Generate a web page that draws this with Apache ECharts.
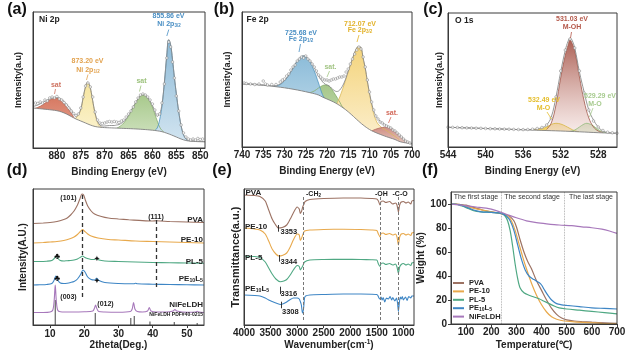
<!DOCTYPE html>
<html><head><meta charset="utf-8">
<script src="https://cdn.jsdelivr.net/npm/echarts@6.0.0/dist/echarts.min.js"></script>
<style>html,body{margin:0;padding:0;background:#fff}#c{width:639px;height:354px}</style>
</head><body><div id="c"></div>
<script>
const F='"Liberation Sans", Arial, Helvetica, sans-serif';
// ---------- (a) Ni 2p ----------
const niTicks=[880,875,870,865,860,855,850];
const niBg=[[885,40],[883,39],[881,38],[880,37.3],[879,36],[878,34],[877,31.5],[876,29],[875,27],[874,25],[873,23],[872,21.5],[871,20.8],[870,20.4],[868,20],[866,19.6],[864,19.2],[862,18.6],[860,17.8],[859,17.2],[858,16.3],[857,14.8],[856,13],[855,11],[854,9],[853,7.5],[852,6.8],[850,6.3],[849,6.2]];
const niSat1=[[884.5,39.8],[884,40.6],[883,43],[882,46.5],[881,49],[880,49.7],[879,46.5],[878,41],[877,34.8],[876.3,29.2]];
const niP12=[[876.5,28.5],[876,30],[875.5,33],[875,38],[874.5,50],[874,61],[873.6,65.3],[873.2,63],[872.8,55],[872.4,44],[872,34],[871.5,25.5],[871,21.5],[870.5,20.6]];
const niSat2=[[867.5,19.9],[867,21],[866,25],[865,32],[864,41],[863,49],[862.5,52],[862,53],[861.5,52.5],[861,50],[860.5,46],[860,41],[859.5,34],[859,27],[858.5,21],[858,17.5],[857.5,15.6]];
const niP32=[[859.5,17.6],[859,20],[858.5,28],[858,42],[857.5,65],[857,92],[856.6,108],[856.2,103],[855.8,88],[855.4,70],[855,54],[854.5,36],[854,22],[853.5,13],[853,9],[852.5,7.2]];
const niFit=[[885,41.5],[884,43],[883,45.5],[882,48],[881,50],[880,50.5],[879,48.5],[878,44],[877,38],[876.5,34],[876,32],[875.5,34],[875,39],[874.5,50.5],[874,61.5],[873.6,65.8],[873.2,63.5],[872.8,55.5],[872.4,44.5],[872,35],[871.5,27],[871,23],[870.5,22],[870,22],[869,22.5],[868,22.5],[867.5,23],[867,23.5],[866,26.5],[865,33],[864,41.5],[863,49.5],[862.5,52.5],[862,53.5],[861.5,53],[861,50.5],[860.5,47],[860,42.5],[859.5,37],[859,32],[858.5,34],[858,44],[857.5,66],[857,93],[856.6,108.5],[856.2,103.5],[855.8,88.5],[855.4,70.5],[855,54.5],[854.5,36.5],[854,22.5],[853.5,13.5],[853,9.5],[852.5,7.8],[852,7.2],[850,6.6],[849,6.4]];
const niData=[[884.5,45],[884,44.5],[883.5,46],[883,45],[882.5,48],[882,47],[881.5,50],[881,51],[880.5,50],[880,51.5],[879.5,49],[879,48],[878.5,45.5],[878,43],[877.5,40],[877,37],[876.5,34.5],[876,32.5],[875.5,34],[875,40],[874.5,51],[874,62],[873.5,65],[873,61],[872.5,51],[872,36],[871.5,28],[871,25],[870.5,24.5],[870,25],[869.5,26],[869,26.5],[868.5,26],[868,26.5],[867.5,26],[867,25.5],[866.5,27],[866,28],[865.5,31],[865,34],[864.5,37],[864,41],[863.5,46],[863,50],[862.5,53],[862,54],[861.5,53],[861,51],[860.5,48],[860,44],[859.5,38],[859,33],[858.5,34],[858,45],[857.5,64],[857,90],[856.6,106],[856.2,101],[855.8,86],[855.4,70],[855,52],[854.5,37],[854,23],[853.5,15],[853,11],[852.5,9],[852,8],[851.5,9],[851,8],[850.5,9.5],[850,8.5],[849.5,9]];
// ---------- (b) Fe 2p ----------
const feTicks=[740,735,730,725,720,715,710,705,700];
const feBg=[[740,63],[736,62],[732,60.3],[728,57.8],[724,54.3],[722,52],[721,49.8],[720,48],[718,44],[716,38.5],[714.6,33.7],[713,27.5],[711.5,22],[710,17.5],[709,15.3],[708,13.5],[706,10.3],[704,7.5],[702.8,5.3],[701,3.8],[700,3]];
const feSat1=[[724,54.3],[723,56],[722,59],[721,61.5],[720.3,62],[719.5,61],[719,58.5],[718,52],[717,45],[716.5,41],[716,38.5]];
const feP12=[[732.5,60.6],[732,61],[731,62.5],[730,66],[729,72],[728,79],[727,86],[726,90.5],[725.5,91],[725,90],[724,85],[723,76],[722,64],[721.3,55],[720.8,50],[720.5,48.5]];
const feP32=[[717.7,43],[717,50],[716,62],[715,75],[714,88],[713.2,97],[712.6,100.3],[712,99],[711.5,88],[711,78],[710.5,65],[710,53],[709.5,42],[709,33],[708.5,27],[708,23],[707,19],[706,16.5],[705,13.5],[704,10.5],[703,7.5]];
const feSat2=[[709.5,16],[709,17],[708,18.5],[707,19.5],[706,19.7],[705,18.8],[704,16],[703,12],[702,8],[701,5],[700.3,3.3]];
const feFit=[[740,63.5],[738,63.2],[736,62.5],[734,61.7],[733,61.3],[732,61.5],[731,63],[730,66.5],[729,72],[728,79],[727,86],[726,90.5],[725.5,91.2],[725,90.5],[724,86.5],[723,79.5],[722,71],[721,65],[720.3,62.5],[719.5,61],[719,59],[718.3,56.5],[717.7,55.5],[717,57],[716,64],[715,76],[714,88.5],[713.2,97.5],[712.6,100.5],[712,99.5],[711.5,89],[711,79],[710.5,66],[710,54],[709.5,44],[709,36],[708.5,31],[708,28],[707,24],[706,21.5],[705,19],[704,16],[703,12],[702,8],[701,5],[700,3.2]];
const feData=[[739.5,64],[739,63.5],[738,63],[737,62.5],[736,63],[735,66],[734.5,63],[734,62],[733,62.5],[732,62.5],[731,65],[730.5,67],[730,68],[729.5,71],[729,73],[728.5,77],[728,80],[727.5,82],[727,86],[726.5,88],[726,90],[725.5,89],[725,91],[724.5,88],[724,86],[723.5,83],[723,80],[722.5,76],[722,72],[721.5,70],[721,68],[720.5,67],[720,67],[719.5,66],[719,67],[718.5,68],[718,68],[717.5,69],[717,70],[716.5,70],[716,71],[715.5,75],[715,78],[714.5,83],[714,88],[713.5,93],[713,97],[712.5,100],[712,98],[711.5,90],[711,80],[710.5,67],[710,55],[709.5,45],[709,37],[708.5,31],[708,28],[707.5,25],[707,24],[706.5,22],[706,21],[705.5,20],[705,19],[704.5,17],[704,16],[703.5,14],[703,12],[702.5,10],[702,8],[701.5,6],[701,5],[700.5,4]];
// ---------- (c) O 1s ----------
const oTicks=[544,540,536,532,528];
const oBg=[[544,19.7],[540,18.5],[536,17.2],[534,16.6],[532,16],[530,15.2],[528,14.3],[526,13.7]];
const oMO1=[[535,17.3],[534,18.5],[533.5,20],[533,22.5],[532.5,23.7],[532,23],[531.5,21],[531,18.5],[530.5,16.2],[530,15.2]];
const oMO2=[[531,15.6],[530.5,17],[530,20],[529.5,23],[529.2,23.7],[528.8,22.5],[528.5,21],[528,17.5],[527.5,15.2],[527,14.2]];
const oMOH=[[533.5,17.5],[533,24],[532.5,42],[532,69],[531.5,92],[531.2,102],[531,107],[530.8,104],[530.5,96],[530,70],[529.5,46],[529,29],[528.5,20],[528,16],[527.5,14.5]];
const oFit=[[544,19.7],[542,19.1],[540,18.5],[538,17.9],[536,17.4],[535,17.6],[534,19.3],[533.5,22],[533,30],[532.5,50],[532,75],[531.5,97],[531.2,106],[531,109],[530.8,107],[530.5,99],[530,75],[529.5,55],[529,37],[528.5,27],[528,20],[527.5,16],[527,14.5],[526,13.7]];
const oData=[[544,19.8],[543.5,19.6],[543,19.5],[542.5,19.3],[542,19.1],[541.5,19],[541,18.8],[540.5,18.7],[540,18.5],[539.5,18.3],[539,18.2],[538.5,18],[538,17.9],[537.5,17.8],[537,17.6],[536.5,17.5],[536,17.4],[535.5,17.5],[535,17.8],[534.5,18.5],[534,19.5],[533.5,22],[533,29],[532.5,50],[532,76],[531.5,97],[531,108],[530.5,99],[530,76],[529.5,54],[529,37],[528.5,26],[528,20],[527.5,16.5],[527,14.8],[526.5,14.2],[526,13.8]];
// ---------- (d) XRD ----------
const xrdTicks=[10,20,30,40,50];
const xrdPVA=[[5,101.5],[8,102],[10,102.5],[12,103.5],[14,105.5],[15,107],[16,110],[17,114],[18,120],[18.7,126],[19.3,131],[19.8,130],[20.3,125],[21,119],[22,114],[23,111],[25,108.5],[27,107],[30,106],[33,105.2],[36,104.6],[40,104],[41,104.2],[45,103.5],[50,103],[55,102.5]];
const xrdPE10=[[5,82],[8,82.5],[10,83],[12,83.5],[14,84.5],[16,86.5],[17,88],[18,90.5],[19,94],[19.5,95.5],[20,94],[21,91],[22,89],[24,87],[27,85.5],[30,85],[35,84],[40,83.5],[45,83],[50,82.5],[55,82]];
const xrdPL5=[[5,63.5],[7,63.5],[9,63.8],[10.5,64.5],[11.2,66.5],[11.8,69],[12.3,66.5],[13,64.5],[14,64],[15,64.3],[16,64.5],[17,65],[18,66],[19,68],[19.5,69],[20.2,67.5],[21,66.5],[22,65.5],[23,65.5],[23.6,66.8],[24.3,65],[26,64],[30,63.5],[35,63],[40,62.5],[45,62.3],[50,62],[55,61.8]];
const xrdPEL=[[5,40],[7,40.2],[9,40.5],[10.5,41.5],[11.2,45],[11.7,49],[12.2,45],[13,42],[14,41.5],[15,41.8],[16,42.5],[17,43.5],[18,46],[19,51],[19.6,55],[20.2,53],[21,48],[22,45.5],[23,45],[23.6,46.8],[24.3,44.5],[26,42.5],[30,41.5],[34.5,41.3],[35,41.8],[35.5,41.2],[40,40.8],[45,40.5],[50,40.2],[55,40]];
const xrdLDH=[[5,12.5],[8,12.5],[10,13],[10.8,15],[11.2,25],[11.5,40],[11.8,25],[12.2,15],[13,13.3],[16,13],[20,13.2],[22.5,14],[23,17],[23.3,20],[23.6,17],[24.2,13.5],[26,13],[30,12.8],[33.5,13.5],[34,16],[34.4,22.5],[34.8,16],[35.5,13.5],[37,13],[38.5,14],[39,17.5],[39.5,14],[41,13],[44,13],[46,14],[46.5,15.5],[47,14],[50,12.8],[52.5,13],[53,13.8],[53.5,13],[55,12.5]];
const xrdPDF=[[11.5,25],[23.2,12],[33.6,7],[34.6,9],[39.2,3.5],[46.3,3],[53,2]];
const xrdGuides=[[19.5,130,25],[41,105,37]];
// ---------- (e) FTIR ----------
const irTicks=[4000,3500,3000,2500,2000,1500,1000];
const irPVA=[[4000,130],[3800,129.5],[3700,128.5],[3600,124],[3535,115],[3470,106],[3415,101],[3353,97],[3280,97.5],[3196,100],[3130,106],[3072,112],[3000,118],[2960,116],[2940,111.5],[2915,114],[2895,118],[2870,121],[2850,123.5],[2760,125.5],[2500,126.5],[2130,127],[1800,127],[1600,126.5],[1501,126],[1470,124],[1440,120],[1420,123.5],[1380,124],[1330,122.5],[1260,123.5],[1200,121],[1150,122],[1120,120],[1094,113],[1070,120],[1040,123],[1000,123.5],[950,122],[910,123],[860,121],[840,124],[800,124.5]];
const irPE10=[[4000,97],[3800,96],[3700,95],[3600,91],[3535,84],[3470,76],[3400,71],[3344,69],[3280,69.5],[3196,72],[3130,78],[3072,85],[3000,91],[2960,90],[2940,84.5],[2915,87],[2895,90],[2860,94],[2760,95],[2500,95.5],[2130,95.8],[1800,95.5],[1600,95],[1501,94.5],[1470,91],[1440,88],[1420,91.5],[1380,92],[1330,90.5],[1260,91.5],[1200,90],[1150,91],[1120,88],[1094,80],[1070,88],[1040,91],[1000,91.5],[950,90],[910,91],[860,89.5],[840,92],[800,92.5]];
const irPL5=[[4000,69],[3800,68.5],[3700,67.5],[3600,63],[3535,57],[3470,51],[3400,46],[3316,43.3],[3250,44],[3196,45.5],[3130,50],[3072,55],[3000,59.5],[2960,58.5],[2940,55],[2915,57],[2895,59],[2860,63],[2760,65],[2500,65.5],[2130,65.7],[1800,65.5],[1600,65.2],[1501,65],[1470,61],[1440,58.5],[1420,61.5],[1380,62],[1330,60.5],[1260,61.5],[1200,60],[1150,61],[1120,58],[1094,51.5],[1070,58],[1040,60.5],[1000,61.5],[950,60],[910,61],[860,59.5],[840,62],[800,62.5]];
const irPEL=[[4000,30],[3800,29.5],[3700,29],[3600,27],[3535,25],[3470,23.5],[3400,22],[3308,20.5],[3250,21.5],[3196,23],[3130,25.5],[3072,27],[3000,27],[2960,26],[2940,23.5],[2920,20],[2900,12],[2880,16],[2860,27],[2840,29],[2760,30],[2500,30.5],[2130,31],[1800,31],[1600,30.8],[1501,30.5],[1480,29.5],[1460,27],[1440,26],[1420,28],[1400,25],[1380,27.5],[1350,23],[1320,27],[1280,26],[1250,28.5],[1220,25],[1200,27.5],[1160,24],[1130,27],[1110,22],[1094,13.5],[1080,20],[1060,28],[1040,26],[1020,28.5],[1000,25],[960,28],[930,24.5],[900,28.5],[860,27],[840,29],[800,29]];
const irGuides=[2880,1440,1094];
const irPeaks=[[3353,100,93.3],[3344,70,63.3],[3316,38.3,31],[3308,23.3,16.7]];
// ---------- (f) TGA ----------
const tgaTicks=[100,200,300,400,500,600,700];
const tgaYTicks=[0,20,40,60,80,100];
const tgaPVA=[[40,100],[60,100],[80,99.5],[100,99],[115,98],[150,96],[182,94],[235,92.2],[260,91],[275,89.5],[290,86],[300,81],[315,70],[330,60],[345,52],[360,46],[380,36],[400,28],[420,20],[440,13],[460,8],[480,5],[500,3.5],[530,2.5],[560,2],[600,1.5],[650,1],[700,0.5]];
const tgaPE10=[[40,100],[60,100],[80,99],[100,98],[150,95.5],[200,93.5],[240,92],[265,90],[280,86],[295,78],[310,67],[325,56],[340,46],[360,34],[380,24],[400,16],[420,10],[440,6],[460,4],[490,2.5],[530,1.8],[580,1.2],[640,0.6],[700,0.2]];
const tgaPL5=[[40,100],[60,99.8],[80,98.5],[100,97],[130,94.5],[160,93.5],[200,93],[240,92.2],[255,90],[265,86],[275,78],[285,65],[295,50],[305,38],[315,30],[330,26],[350,24],[370,22.5],[390,21],[410,19],[430,17],[450,15],[470,13.5],[500,12.5],[550,11.5],[600,10.5],[650,9.5],[700,8.5]];
const tgaPEL=[[40,100],[60,99.8],[80,99],[100,97.5],[130,95],[160,93.5],[200,93],[240,92.2],[260,90],[275,86],[290,78],[305,66],[320,54],[335,45],[350,40],[370,37],[390,34.5],[400,32.5],[410,29],[425,24],[440,20],[460,17],[480,16],[500,15.5],[550,14.5],[600,13.5],[650,13],[700,12.5]];
const tgaLDH=[[40,100],[60,99.5],[80,99],[100,98.5],[140,97.5],[180,96.5],[220,94.5],[260,91.5],[300,88.5],[340,86],[380,84.5],[420,83.5],[470,82.5],[520,82],[560,81],[600,80.2],[640,79],[670,77.5],[700,75.5]];
const tgaStages=[240,490];

// ---------- colours ----------
const C_PVA='#9c7263',C_PE10='#e8a94c',C_PL5='#4fa883',C_PEL='#3e86c5',C_LDH='#a778bb';

const chart=echarts.init(document.getElementById('c'),null,{renderer:'canvas'});
function grad(a,b){return new echarts.graphic.LinearGradient(0,0,0,1,[{offset:0,color:a},{offset:1,color:b}]);}
function lineS(gi,data,color,width,extra){return Object.assign({type:'line',xAxisIndex:gi,yAxisIndex:gi,data:data,symbol:'none',smooth:0.3,lineStyle:{color:color,width:width},itemStyle:{color:color},silent:true,z:3},extra||{});}
function peak(gi,data,line,c1,c2,z){return lineS(gi,data,line,0.8,{smooth:0.4,areaStyle:{color:grad(c1,c2),opacity:1},z:z||2});}
function mask(gi,data){return lineS(gi,data,'#808080',0.9,{smooth:0.4,areaStyle:{color:'#ffffff',opacity:1},z:4});}
function fit(gi,data){return lineS(gi,data,'#8a8a8a',0.9,{smooth:0.4,z:5});}
function dots(gi,data){return {type:'scatter',xAxisIndex:gi,yAxisIndex:gi,data:data,symbol:'circle',symbolSize:2.6,itemStyle:{color:'#ffffff',borderColor:'#7a7a7a',borderWidth:0.6},z:6,silent:true};}
function guides(list,color,dash,width){return {silent:true,symbol:['none','none'],label:{show:false},lineStyle:{color:color,type:dash,width:width},data:list.map(g=>[{coord:[g[0],g[1]]},{coord:[g[0],g[2]]}])};}

const series=[];
// (a)
series.push(peak(0,niSat1,'#b8624f','#d77a63','#e9b3a4'));
series.push(peak(0,niP12,'#cdb566','#f6e5a0','#fcf6dc'));
series.push(peak(0,niSat2,'#86ad6c','#a8c98c','#d9e8cc'));
series.push(peak(0,niP32,'#4f94bf','#8dbad7','#d6e7f2'));
series.push(mask(0,niBg));series.push(fit(0,niFit));series.push(dots(0,niData));
// (b)
series.push(peak(1,feSat1,'#86ad6c','#a6c78a','#d4e5c4'));
series.push(peak(1,feP12,'#4f94bf','#8cbcd9','#d3e6f1'));
series.push(peak(1,feP32,'#d9b95a','#f4d47c','#fcf1d4'));
series.push(peak(1,feSat2,'#b86c60','#cf8e83','#ead0ca'));
series.push(mask(1,feBg));series.push(fit(1,feFit));series.push(dots(1,feData));
// (c)
series.push(peak(2,oMO1,'#d8b640','#f0cc50','#f9ecc0'));
series.push(peak(2,oMO2,'#93bb7c','#b3d39c','#e3efd9'));
series.push(peak(2,oMOH,'#a0574a','rgba(168,88,76,0.95)','rgba(255,245,243,0.6)'));
series.push(mask(2,oBg));series.push(fit(2,oFit));series.push(dots(2,oData));
// (d)
const dPVA=lineS(3,xrdPVA,C_PVA,1.1);dPVA.markLine=guides(xrdGuides,'#333',[4,3],1.3);
series.push(dPVA);
series.push(lineS(3,xrdPE10,C_PE10,1.1));
series.push(lineS(3,xrdPL5,C_PL5,1.1));
series.push(lineS(3,xrdPEL,C_PEL,1.1));
series.push(lineS(3,xrdLDH,C_LDH,1.1));
series.push({type:'bar',xAxisIndex:3,yAxisIndex:3,data:xrdPDF,barWidth:1,itemStyle:{color:'#444'},silent:true,z:3});
// (e)
const ePVA=lineS(4,irPVA,C_PVA,1.1,{smooth:0.2});
ePVA.markLine=guides(irGuides.map(w=>[w,128,5]),'#777',[3,2],1);
series.push(ePVA);
const ePE=lineS(4,irPE10,C_PE10,1.1,{smooth:0.2});
ePE.markLine=guides(irPeaks,'#222','solid',0.9);
series.push(ePE);
series.push(lineS(4,irPL5,C_PL5,1.1,{smooth:0.2}));
series.push(lineS(4,irPEL,C_PEL,1.1,{smooth:0.2}));
// (f)
const fPVA=lineS(5,tgaPVA,C_PVA,1.2,{name:'PVA'});
fPVA.markLine=guides(tgaStages.map(t=>[t,0,110]),'#9a9a9a','dotted',0.8);
series.push(fPVA);
series.push(lineS(5,tgaPE10,C_PE10,1.2,{name:'PE-10'}));
series.push(lineS(5,tgaPL5,C_PL5,1.2,{name:'PL-5'}));
series.push(lineS(5,tgaPEL,C_PEL,1.2,{name:'PE10L5'}));
series.push(lineS(5,tgaLDH,C_LDH,1.2,{name:'NiFeLDH'}));

const gridBase={show:true,borderColor:'#3a3a3a',borderWidth:1,backgroundColor:'transparent',z:10,containLabel:false,outerBoundsMode:'none'};
const grids=[
 {left:33,top:12,width:172,height:136},
 {left:242,top:12,width:170,height:135},
 {left:448,top:13,width:169,height:134},
 {left:33,top:189,width:171,height:136},
 {left:244,top:189,width:170,height:136},
 {left:451,top:192,width:166,height:132}
].map(g=>Object.assign({},gridBase,g));

const lbl={fontFamily:F,fontSize:10,fontWeight:'bold',color:'#222'};
function xa(gi,min,max,inv,ticks,name,gap,margin,nameStyle){
 return {gridIndex:gi,type:'value',min:min,max:max,inverse:inv,z:10,
  axisLine:{show:true,lineStyle:{color:'#3a3a3a',width:1}},
  axisTick:{show:true,inside:false,length:3,customValues:ticks,lineStyle:{color:'#3a3a3a'}},
  axisLabel:Object.assign({customValues:ticks,margin:margin,formatter:function(v){return String(v);}},lbl),
  splitLine:{show:false},name:name,nameLocation:'middle',nameGap:gap,
  nameTextStyle:Object.assign({},lbl,nameStyle||{})};
}
function ya(gi,max,name,gap,size){
 return {gridIndex:gi,type:'value',min:0,max:max,z:10,axisLine:{show:true,lineStyle:{color:'#3a3a3a'}},axisTick:{show:false},axisLabel:{show:false},splitLine:{show:false},
  name:name,nameLocation:'middle',nameGap:gap,nameTextStyle:Object.assign({},lbl,{fontSize:size})};
}
const xAxes=[
 xa(0,849,885,true,niTicks,'Binding Energy (eV)',19,3),
 xa(1,700,740,true,feTicks,'Binding Energy (eV)',19.5,3),
 xa(2,526,544,true,oTicks,'Binding Energy (eV)',19.5,3),
 xa(3,5,55,false,xrdTicks,'2theta(Deg.)',15,4),
 xa(4,800,4000,true,irTicks,'{a|Wavenumber(cm}{b|-1}{a|)}',12,3,{rich:{a:Object.assign({},lbl),b:Object.assign({},lbl,{fontSize:6.5,padding:[0,0,5,0]})}}),
 xa(5,40,700,false,tgaTicks,'Temperature(℃)',16,3)
];
const yAxes=[
 ya(0,136,'Intensity(a.u)',9.5,9),
 ya(1,135,'Intensity(a.u)',10,9),
 ya(2,134,'Intensity(a.u)',4,9),
 ya(3,136,'Intensity(A.U.)',4.5,10),
 ya(4,136,'Transmittance(a.u.)',3,11),
 {gridIndex:5,type:'value',min:0,max:110,z:10,axisLine:{show:true,lineStyle:{color:'#3a3a3a'}},
  axisTick:{show:true,length:3,customValues:tgaYTicks,lineStyle:{color:'#3a3a3a'}},
  axisLabel:Object.assign({customValues:tgaYTicks,margin:4},lbl),splitLine:{show:false},
  name:'Weight (%)',nameLocation:'middle',nameGap:22,nameTextStyle:Object.assign({},lbl,{fontSize:10})}
];

// ---------- annotation text ----------
const G=[];
function T(x,y,text,size,color,o){o=o||{};const st={text:text,fontFamily:F,fontSize:size,fontWeight:o.weight||'bold',fill:color,align:o.align||'center',verticalAlign:'middle'};
 if(o.sub){st.rich={a:{fontFamily:F,fontSize:size,fontWeight:'bold',fill:color},s:{fontFamily:F,fontSize:size*0.65,fontWeight:'bold',fill:color,padding:o.sup?[0,0,size*0.55,0]:[size*0.45,0,0,0]}};}
 G.push({type:'text',x:x,y:y,z:100,silent:true,style:st});}
function L(x1,y1,x2,y2,color,w){G.push({type:'line',z:100,silent:true,shape:{x1:x1,y1:y1,x2:x2,y2:y2},style:{stroke:color,lineWidth:w||0.8}});}
// panel letters
T(17,9.5,'(a)',16,'#111');T(224,9.5,'(b)',16,'#111');T(433,9.5,'(c)',16,'#111');
T(17,171,'(d)',16,'#111');T(222,171,'(e)',16,'#111');T(430,171,'(f)',16,'#111');
// titles inside
T(39,19.5,'Ni 2p',8.5,'#222',{align:'left'});T(246.5,19.5,'Fe 2p',8.5,'#222',{align:'left'});T(455,20.5,'O 1s',8.5,'#222',{align:'left'});
// (a)
const cB='#4a8fc4',cO='#e2a24e',cR='#cf7462',cG='#9cc27c',cY='#e2b22a';
T(168.5,16.5,'855.86 eV',7,cB);T(169,24.5,'{a|Ni 2p}{s|3/2}',7,cB,{sub:1});L(168.8,29.5,166.8,36,cB);
T(87.5,61.5,'873.20 eV',7,cO);T(88,70,'{a|Ni 2p}{s|1/2}',7,cO,{sub:1});L(88,74.5,86.5,80,cO);
T(56,85,'sat',7,cR);L(55.5,89,54.5,94,cR);
T(141.5,81.5,'sat',7,cG);L(141,85.5,139.5,91.5,cG);
// (b)
T(301,33,'725.68 eV',7,cB);T(301,39.5,'{a|Fe 2p}{s|1/2}',7,cB,{sub:1});L(300.5,44,299,52,cB);
T(360,24.5,'712.07 eV',7,cY);T(360,30.5,'{a|Fe 2p}{s|3/2}',7,cY,{sub:1});L(359,35,357,42,cY);
T(330.5,67,'sat.',7,'#a3c585');L(329.5,71,327,77,'#a3c585');
T(392,113,'sat.',7,'#d36b5c');L(391,117,388.5,123,'#d36b5c');
// (c)
T(572,19,'531.03 eV',7,'#b4584a');T(572,27.5,'M-OH',7,'#b4584a');L(571.5,32,570.5,38,'#b4584a');
T(544,100,'532.49 eV',7,'#e5be2e');T(543.5,108,'M-O',7,'#e5be2e');L(547,112,551.5,119,'#e5be2e');
T(600,96.5,'529.29 eV',7,'#a7cb8f');T(595,104,'M-O',7,'#a7cb8f');L(593,108,589.5,117,'#a7cb8f');
// (d)
T(68.5,198.5,'(101)',7,'#222');T(156,217.5,'(111)',7,'#222');T(68.5,297.5,'(003)',7,'#222');T(105.5,304,'(012)',7,'#222');
T(203,219.5,'PVA',8,'#222',{align:'right'});T(203,240,'PE-10',8,'#222',{align:'right'});T(203,261.5,'PL-5',8,'#222',{align:'right'});
T(203,278.5,'{a|PE}{s|10}{a|L}{s|5}',8,'#222',{align:'right',sub:1});T(203,305,'NiFeLDH',8,'#222',{align:'right'});
T(203,315,'NiFeLDH PDF#40-0215',5,'#222',{align:'right'});
T(57.3,257,'♣',9,'#111');T(57.3,278.5,'♣',9,'#111');T(96.7,259.5,'✦',7,'#111');T(96.7,281,'✦',7,'#111');
// (e)
T(245.5,192.5,'PVA',8,'#222',{align:'left'});T(245,226.5,'PE-10',8,'#222',{align:'left'});T(245,257.5,'PL-5',8,'#222',{align:'left'});
T(245,288.5,'{a|PE}{s|10}{a|L}{s|5}',8,'#222',{align:'left',sub:1});
T(306,194,'{a|-CH}{s|2}',7,'#222',{align:'left',sub:1});T(375,194,'-OH',7,'#222',{align:'left'});T(392.5,194,'-C-O',7,'#222',{align:'left'});
T(280.5,231.5,'3353',7.5,'#222',{align:'left'});T(280.5,261.5,'3344',7.5,'#222',{align:'left'});T(280.5,293.5,'3316',7.5,'#222',{align:'left'});T(282,311.5,'3308',7.5,'#222',{align:'left'});
// (f)
T(476,197.5,'The first stage',7,'#333',{weight:'normal'});T(532,197.5,'The second stage',7,'#333',{weight:'normal'});T(591,197.5,'The last stage',7,'#333',{weight:'normal'});

chart.setOption({
 animation:false,backgroundColor:'#ffffff',
 grid:grids,xAxis:xAxes,yAxis:yAxes,series:series,graphic:G,
 legend:{data:['PVA','PE-10','PL-5','PE10L5','NiFeLDH'],orient:'vertical',left:453,top:279,padding:0,itemWidth:11,itemHeight:2,itemGap:0.4,icon:'rect',selectedMode:false,
  textStyle:{fontFamily:F,fontSize:7.5,fontWeight:'bold',color:'#222',lineHeight:8,
   rich:{a:{fontFamily:F,fontSize:7.5,fontWeight:'bold',color:'#222',lineHeight:8},s:{fontFamily:F,fontSize:5,fontWeight:'bold',color:'#222',padding:[3,0,0,0],lineHeight:8}}},
  formatter:function(n){return n==='PE10L5'?'{a|PE}{s|10}{a|L}{s|5}':'{a|'+n+'}';}}
});
</script></body></html>
